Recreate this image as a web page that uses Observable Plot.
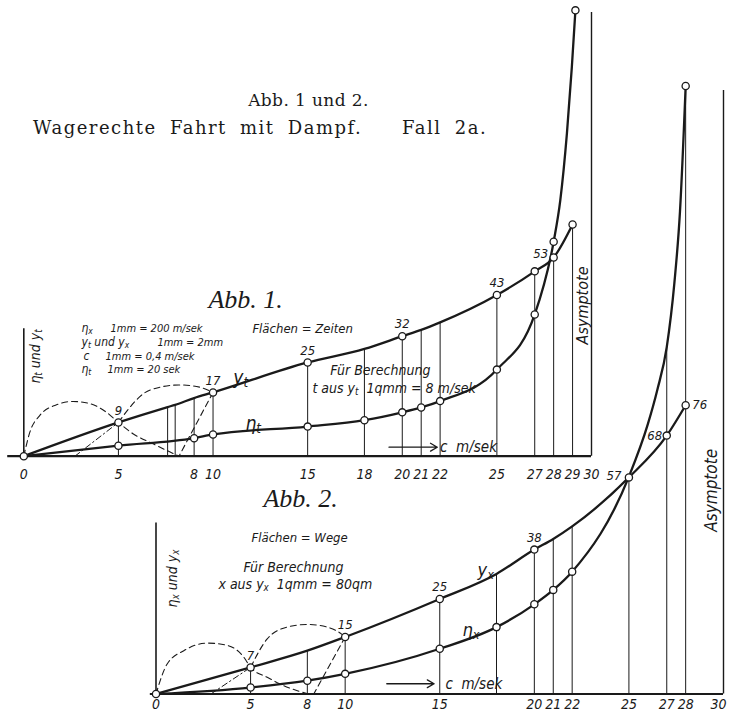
<!DOCTYPE html>
<html><head><meta charset="utf-8">
<script src="https://cdn.jsdelivr.net/npm/d3@7"></script>
<script src="https://cdn.jsdelivr.net/npm/@observablehq/plot@0.6"></script>
<style>
html,body{margin:0;padding:0;background:#fff;}
#wrap{position:relative;width:729px;height:714px;background:#fff;overflow:hidden;}
#wrap svg{position:absolute;left:0;top:0;}
#wrap svg text{font-stretch:condensed;}
.title{position:absolute;font-family:"DejaVu Serif","Liberation Serif",serif;color:#1a1a1a;white-space:pre;}
</style></head><body>
<div id="wrap">
<div class="title" style="left:0;width:617px;text-align:center;top:90px;font-size:17px;letter-spacing:0.4px;">Abb. 1 und 2.</div>
<div class="title" style="left:33px;top:117px;font-size:18px;letter-spacing:1.5px;word-spacing:6px;">Wagerechte Fahrt mit Dampf.   Fall 2a.</div>
</div>
<script>
// ---------- Abb. 1 : c (m/sek) vs y_t and eta_t ----------
const c1   = [0, 5, 7.6, 8, 9, 10, 15, 18, 20, 21, 22, 25, 27, 28, 29];
const yt1  = [0, 9, 13.1, 13.7, 15.5, 17, 25, 28.6, 32, 33.7, 35.7, 43, 49.3, 53, 61.8];
const ytDots1 = [0, 5, 10, 15, 20, 25, 27, 28, 29];
const ytLabC1 = [5, 10, 15, 20, 25];
const ytLab1  = ["9", "17", "25", "32", "43"];
const cEta1 = [0, 5, 9, 10, 15, 18, 20, 21, 22, 25, 27, 28, 28.35, 28.7, 28.96, 29.15];
const eta1  = [0, 2.8, 4.8, 5.8, 7.9, 9.6, 11.7, 13, 14.7, 23.1, 37.8, 57.2, 68.2, 86, 103.7, 118.9];
const etaDots1 = [5, 9, 10, 15, 18, 20, 21, 22, 25, 27, 28, 29.15];
const ticks1 = [0, 5, 9, 10, 15, 18, 20, 21, 22, 25, 27, 28, 29, 30];
const tickLab1 = ["0","5","8","10","15","18","20","21","22","25","27","28","29","30"];
const asym1 = 118.3;
const yAxisTop1 = 34;
// construction arcs
const arcA1c = [0, 0.32, 0.85, 1.73, 2.6, 3.5, 4.37, 5.0, 5.77, 6.83, 8.2];
const arcA1y = [0, 6.4, 10.9, 13.7, 14.6, 14.0, 11.7, 9, 6.0, 3.3, 0];
const lineB1c = [2.7, 5.0];
const lineB1y = [0, 9];
const arcB1c = [5.0, 5.6, 6.3, 7.2, 8.2, 9.3, 10.0];
const arcB1y = [9, 13, 16.6, 18.4, 19, 18.4, 17];
const lineC1c = [10, 8.2];
const lineC1y = [17, 0];

// ---------- Abb. 2 : c (m/sek) vs y_x and eta_x ----------
const c2   = [0, 5, 8, 10, 15, 18, 20, 21, 22, 25, 27, 28];
const yx2  = [0, 7, 11.4, 15, 25, 31.6, 38, 40.8, 44.1, 57, 68, 76];
const yxDots2 = [0, 5, 10, 15, 20, 25, 27, 28];
const yxLabC2 = [5, 10, 15, 20];
const yxLab2  = ["7", "15", "25", "38"];
const cEta2 = [0, 5, 8, 10, 15, 18, 20, 21, 22, 25, 26, 26.5, 27, 27.4, 27.7, 28];
const eta2  = [0, 1.7, 3.5, 5.3, 11.9, 17.6, 23.6, 27.4, 32.2, 57.2, 71, 80, 91.3, 108, 127, 160];
const etaDots2 = [5, 8, 10, 15, 18, 20, 21, 22, 28];
const ticks2 = [0, 5, 8, 10, 15, 20, 21, 22, 25, 27, 28, 30];
const tickLab2 = ["0","5","8","10","15","20","21","22","25","27","28","30"];
const asym2 = 158.8;
const yAxisTop2 = 45;
const arcA2c = [0, 0.59, 1.47, 2.7, 3.76, 4.64, 5.0, 5.88, 6.75, 8.07];
const arcA2y = [0, 7.9, 11.4, 13.4, 12.8, 9.7, 7, 4.4, 2.2, 0];
const lineB2c = [2.9, 5];
const lineB2y = [0, 7];
const arcB2c = [5, 5.88, 6.93, 8.0, 9.05, 9.75, 10];
const arcB2y = [7, 14.5, 17.6, 18.3, 17.6, 16, 15];
const lineC2c = [10, 8.34];
const lineC2y = [15, 0];

// ---------- helpers ----------
const ink = "#1a1a1a";
const sans = "'DejaVu Sans Condensed','Liberation Sans Narrow','DejaVu Sans',sans-serif";
const serif = "'Liberation Serif','DejaVu Serif',serif";
const zip = (xs, ys) => xs.map((x, i) => ({c: x, y: ys[i]}));
const pick = (rows, cs) => rows.filter(r => cs.includes(r.c));
const W = 729, H = 714;

function subs(svg) {
  svg.querySelectorAll("text").forEach(t => {
    if (t.querySelector("tspan")) return;
    const s = t.textContent;
    if (!s.includes("_")) return;
    t.textContent = "";
    s.split(/_(.)/).forEach((p, i) => {
      if (!p) return;
      const ts = document.createElementNS("http://www.w3.org/2000/svg", "tspan");
      ts.textContent = p;
      if (i % 2 === 1) { ts.setAttribute("baseline-shift", "-0.25em"); ts.setAttribute("font-size", "70%"); }
      t.appendChild(ts);
    });
  });
}

function chart(cfg) {
  const yt = zip(cfg.cY, cfg.yv);
  const et = zip(cfg.cE, cfg.ev);
  const verts = cfg.verts;
  const ticks = cfg.ticks.map((c, i) => ({c, y: 0, label: cfg.tickLab[i]}));
  const inner = ticks.slice(0, -1), last = ticks.slice(-1);
  const labs = cfg.labC.map((c, i) => ({c, y: cfg.yv[cfg.cY.indexOf(c)], label: cfg.lab[i]}));
  const txt = {fontFamily: sans, fontStyle: "italic", fill: ink};
  return Plot.plot({
    width: W, height: H,
    marginLeft: cfg.left, marginRight: W - cfg.right, marginTop: 0, marginBottom: H - cfg.base,
    x: {domain: [0, 30], axis: null},
    y: {domain: [0, cfg.base / cfg.ppu], axis: null},
    style: {background: "none", overflow: "visible"},
    marks: [
      Plot.ruleY([0], {x1: cfg.baseStart, x2: 30, stroke: ink, strokeWidth: 2.2}),
      Plot.ruleX([0], {y1: 0, y2: cfg.yAxisTop, stroke: ink, strokeWidth: 1.6}),
      Plot.ruleX([30], {y1: 0, y2: cfg.asym, stroke: ink, strokeWidth: 1.4}),
      Plot.ruleX(verts.filter(v => !v.dash), {x: "c", y1: 0, y2: "y", stroke: ink, strokeWidth: 1}),
      Plot.ruleX(verts.filter(v => v.dash), {x: "c", y1: 0, y2: "y", stroke: ink, strokeWidth: 1, strokeDasharray: d => d.dash}),
      Plot.line(zip(cfg.arcAc, cfg.arcAy), {x: "c", y: "y", curve: "monotone-x", stroke: ink, strokeWidth: 1.1, strokeDasharray: "6,4"}),
      Plot.line(zip(cfg.lineBc, cfg.lineBy), {x: "c", y: "y", stroke: ink, strokeWidth: 1, strokeDasharray: "6,3,1.5,3"}),
      Plot.line(zip(cfg.arcBc, cfg.arcBy), {x: "c", y: "y", curve: "monotone-x", stroke: ink, strokeWidth: 1.1, strokeDasharray: "6,4"}),
      Plot.line(zip(cfg.lineCc, cfg.lineCy), {x: "c", y: "y", stroke: ink, strokeWidth: 1.1, strokeDasharray: "6,4"}),
      Plot.line(yt, {x: "c", y: "y", curve: "monotone-x", stroke: ink, strokeWidth: 2.3}),
      Plot.line(et, {x: "c", y: "y", curve: "monotone-x", stroke: ink, strokeWidth: 2.3}),
      Plot.dot(pick(yt, cfg.yDots), {x: "c", y: "y", r: 3.6, fill: "white", stroke: ink, strokeWidth: 1.3}),
      Plot.dot(pick(et, cfg.eDots), {x: "c", y: "y", r: 3.6, fill: "white", stroke: ink, strokeWidth: 1.3}),
      Plot.text(inner, {x: "c", y: "y", text: "label", dy: cfg.tickDy, fontSize: 14, ...txt}),
      Plot.text(last, {x: "c", y: "y", text: "label", dy: cfg.tickDy, dx: cfg.lastDx, fontSize: 14, ...txt}),
      Plot.text(labs, {x: "c", y: "y", text: "label", dy: -12, fontSize: 13, ...txt}),
      ...cfg.extraLabels(txt),
      Plot.arrow([cfg.arrow], {x1: "c1", x2: "c2", y1: "y", y2: "y", stroke: ink, strokeWidth: 1.3, headLength: 9}),
      Plot.text(cfg.notes, {x: "c", y: "y", text: "t", fontSize: "s", textAnchor: "start", ...txt}),
      Plot.text(cfg.rot, {x: "c", y: "y", text: "t", fontSize: "s", rotate: -90, textAnchor: "middle", ...txt}),
      Plot.text([cfg.abb], {x: "c", y: "y", text: "t", fontSize: cfg.abbSize, textAnchor: "start", fontFamily: serif, fontStyle: "italic", fill: ink})
    ]
  });
}

// verticals (value-lookups from the curves)
const verts1 = c1.filter(c => c > 0).map(c => ({c, y: yt1[c1.indexOf(c)]}));
const verts2 = c2.filter(c => c > 0).map(c => ({
  c,
  y: c >= 27 ? eta2[cEta2.indexOf(c)] : yx2[c2.indexOf(c)],
  dash: c === 8 ? "6,3,1.5,3" : c === 10 ? "5,3" : null
}));

const p1 = chart({
  left: 23.3, right: 591, base: 455.7, ppu: 3.75, baseStart: -0.85, tickDy: 18, lastDx: 0,
  cY: c1, yv: yt1, cE: cEta1, ev: eta1, yDots: ytDots1, eDots: etaDots1,
  ticks: ticks1, tickLab: tickLab1, labC: ytLabC1, lab: ytLab1,
  verts: verts1, asym: asym1, yAxisTop: yAxisTop1,
  arcAc: arcA1c, arcAy: arcA1y, lineBc: lineB1c, lineBy: lineB1y,
  arcBc: arcB1c, arcBy: arcB1y, lineCc: lineC1c, lineCy: lineC1y,
  extraLabels: txt => [Plot.text([{c: 28, y: 53, label: "53"}], {x: "c", y: "y", text: "label", dx: -13, dy: -4, fontSize: 13, ...txt})],
  arrow: {c1: 19.3, c2: 21.85, y: 2.4},
  notes: [
    {c: 3.05, y: 34.1, t: "η_x", s: 12}, {c: 4.58, y: 34.1, t: "1mm = 200 m/sek", s: 11},
    {c: 3.05, y: 30.3, t: "y_t und y_x", s: 12}, {c: 7.06, y: 30.3, t: "1mm = 2mm", s: 11},
    {c: 3.15, y: 26.7, t: "c", s: 12}, {c: 4.32, y: 26.7, t: "1mm = 0,4 m/sek", s: 11},
    {c: 3.05, y: 23.1, t: "η_t", s: 12}, {c: 4.42, y: 23.1, t: "1mm = 20 sek", s: 11},
    {c: 12.08, y: 34.0, t: "Flächen = Zeiten", s: 13},
    {c: 11.07, y: 21.0, t: "y_t", s: 19},
    {c: 11.71, y: 8.5, t: "η_t", s: 19},
    {c: 16.2, y: 22.9, t: "Für Berechnung", s: 14},
    {c: 15.25, y: 18.1, t: "t aus y_t  1qmm = 8 m/sek", s: 14},
    {c: 22.0, y: 2.4, t: "c  m/sek", s: 15}
  ],
  rot: [
    {c: 29.57, y: 40.2, t: "Asymptote", s: 16},
    {c: 0.6, y: 26.6, t: "η_t und y_t", s: 14}
  ],
  abb: {c: 9.76, y: 41.8, t: "Abb. 1."}, abbSize: 26
});

const p2 = chart({
  left: 155.5, right: 723, base: 693.5, ppu: 3.8, baseStart: -0.3, tickDy: 11, lastDx: -5,
  cY: c2, yv: yx2, cE: cEta2, ev: eta2, yDots: yxDots2, eDots: etaDots2,
  ticks: ticks2, tickLab: tickLab2, labC: yxLabC2, lab: yxLab2,
  verts: verts2, asym: asym2, yAxisTop: yAxisTop2,
  arcAc: arcA2c, arcAy: arcA2y, lineBc: lineB2c, lineBy: lineB2y,
  arcBc: arcB2c, arcBy: arcB2y, lineCc: lineC2c, lineCy: lineC2y,
  extraLabels: txt => [
    Plot.text([{c: 25, y: 57, label: "57"}], {x: "c", y: "y", text: "label", dx: -15, dy: -2, fontSize: 13, ...txt}),
    Plot.text([{c: 27, y: 68, label: "68"}], {x: "c", y: "y", text: "label", dx: -12, dy: 0, fontSize: 13, ...txt}),
    Plot.text([{c: 28, y: 76, label: "76"}], {x: "c", y: "y", text: "label", dx: 14, dy: 0, fontSize: 13, ...txt})
  ],
  arrow: {c1: 12.2, c2: 14.7, y: 2.7},
  notes: [
    {c: 5.05, y: 41.2, t: "Flächen = Wege", s: 13},
    {c: 4.62, y: 33.3, t: "Für Berechnung", s: 14},
    {c: 3.30, y: 28.8, t: "x aus y_x  1qmm = 80qm", s: 14},
    {c: 17.0, y: 32.5, t: "y_x", s: 18},
    {c: 16.2, y: 16.7, t: "η_x", s: 18},
    {c: 15.3, y: 2.7, t: "c  m/sek", s: 15}
  ],
  rot: [
    {c: 29.36, y: 53.6, t: "Asymptote", s: 17},
    {c: 0.87, y: 30.4, t: "η_x und y_x", s: 14}
  ],
  abb: {c: 5.68, y: 51.3, t: "Abb. 2."}, abbSize: 26
});

const wrap = document.getElementById("wrap");
wrap.appendChild(p1);
wrap.appendChild(p2);
subs(p1); subs(p2);
</script>
</body></html>
